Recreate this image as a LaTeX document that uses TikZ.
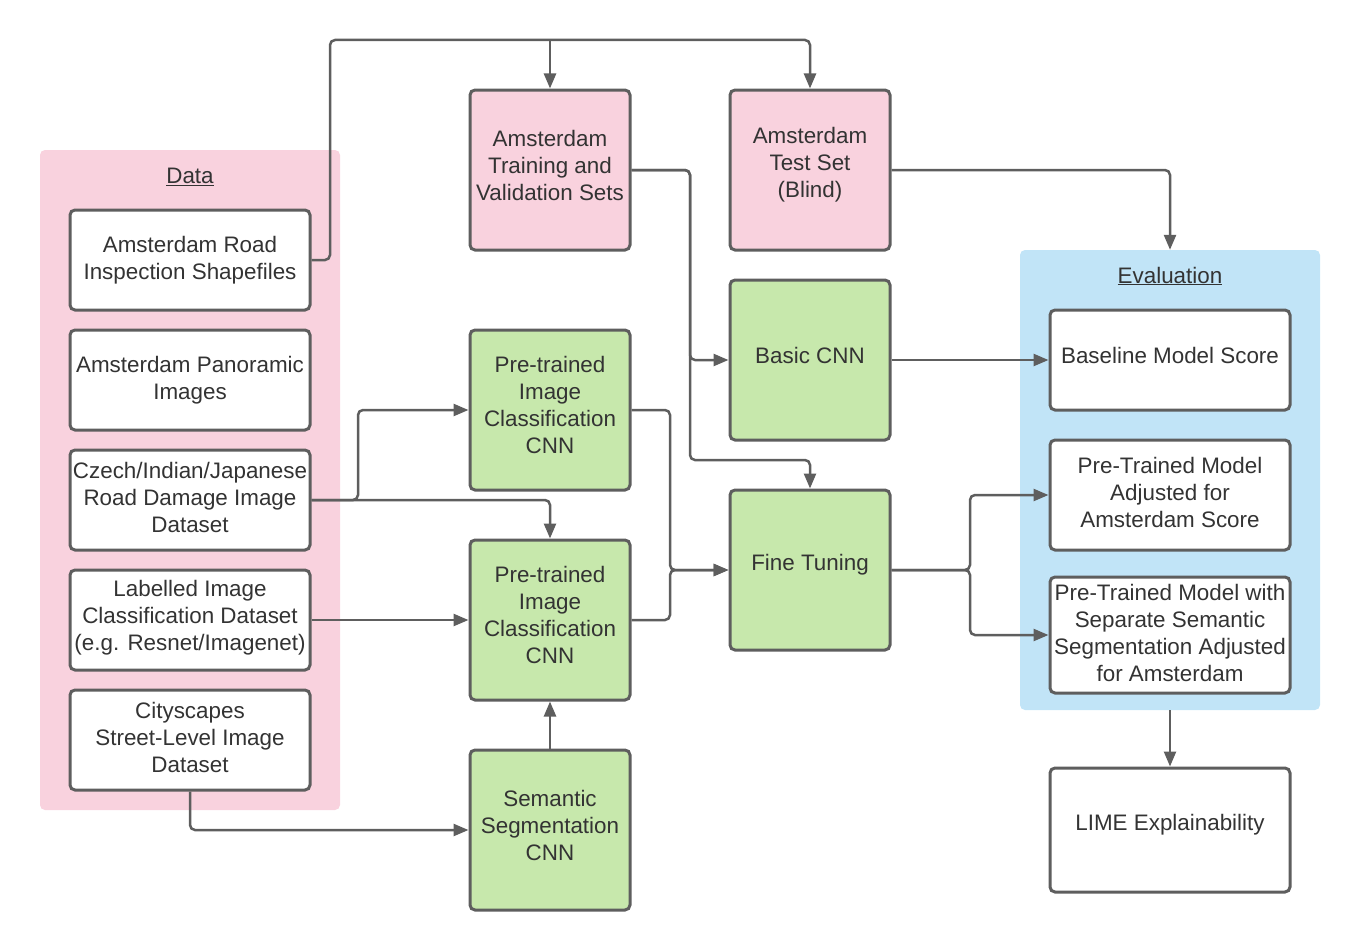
\documentclass[tikz,border=0pt]{standalone}
\usepackage{fontspec}
\setmainfont{Liberation Sans}
\usetikzlibrary{arrows.meta}
\definecolor{pinkbg}{HTML}{F9D2DE}
\definecolor{greenbg}{HTML}{C7E8AC}
\definecolor{bluebg}{HTML}{C1E4F7}
\definecolor{linec}{HTML}{5E5E5E}
\definecolor{txt}{HTML}{333333}
\begin{document}
\begin{tikzpicture}[x=1pt,y=-1pt,
  box/.style={draw=linec, line width=3pt, rounded corners=5pt, inner sep=0pt},
  lbl/.style={align=center, font=\fontsize{22.4}{27}\selectfont, text=txt, inner sep=0pt, yshift=2.5pt},
  lblhi/.style={lbl, yshift=2.5pt},
  lbltwo/.style={lbl, yshift=-3pt},
  whitebox/.style={box, fill=white, minimum width=240, minimum height=100},
  pinkbox/.style={box, fill=pinkbg, minimum width=160, minimum height=160},
  greenbox/.style={box, fill=greenbg, minimum width=160, minimum height=160},
  container/.style={rounded corners=5pt, inner sep=0pt},
  title/.style={font=\fontsize{22.4}{27}\selectfont, text=txt},
  conn/.style={draw=linec, line width=2.5pt, rounded corners=5pt},
  arr/.style={conn, -{Triangle[length=15pt,width=12pt]}}]
\useasboundingbox (0,0) rectangle (1360,950);
% containers
\node[container, fill=pinkbg, minimum width=300, minimum height=660] (data) at (190,480) {};
\node[title] (datat) at (190,177) {\underline{Data}};
\node[container, fill=bluebg, minimum width=300, minimum height=460] (eval) at (1170,480) {};
\node[title] (evalt) at (1170,276) {\underline{Evaluation}};
% data boxes
\node[whitebox, label={[lbltwo]center:{Amsterdam Road\\Inspection Shapefiles}}] (shp) at (190,260) {};
\node[whitebox, label={[lbltwo]center:{Amsterdam Panoramic\\Images}}] (pan) at (190,380) {};
\node[whitebox, label={[lbl]center:{Czech/Indian/Japanese\\Road Damage Image\\Dataset}}] (cze) at (190,500) {};
\node[whitebox, label={[lbl]center:{Labelled Image\\Classification Dataset\\(e.g. Resnet/Imagenet)}}] (lab) at (190,620) {};
\node[whitebox, label={[lbl]center:{Cityscapes\\Street-Level Image\\Dataset}}] (city) at (190,740) {};
% middle
\node[pinkbox, label={[lblhi]center:{Amsterdam\\Training and\\Validation Sets}}] (train) at (550,170) {};
\node[pinkbox, label={[lblhi]center:{Amsterdam\\Test Set\\(Blind)}}] (test) at (810,170) {};
\node[greenbox, label={[lblhi]center:{Basic CNN}}] (basic) at (810,360) {};
\node[greenbox, label={[lblhi]center:{Fine Tuning}}] (fine) at (810,570) {};
\node[greenbox, label={[lblhi]center:{Pre-trained\\Image\\Classification\\CNN}}] (p1) at (550,410) {};
\node[greenbox, label={[lblhi]center:{Pre-trained\\Image\\Classification\\CNN}}] (p2) at (550,620) {};
\node[greenbox, label={[lblhi]center:{Semantic\\Segmentation\\CNN}}] (seg) at (550,830) {};
% evaluation boxes
\node[whitebox, label={[lblhi]center:{Baseline Model Score}}] (base) at (1170,360) {};
\node[whitebox, minimum height=110, label={[lbl]center:{Pre-Trained Model\\Adjusted for\\Amsterdam Score}}] (adj) at (1170,495) {};
\node[whitebox, minimum height=116, label={[lbl]center:{Pre-Trained Model with\\Separate Semantic\\Segmentation Adjusted\\for Amsterdam}}] (sep) at (1170,635) {};
\node[whitebox, minimum height=124, label={[lblhi]center:{LIME Explainability}}] (lime) at (1170,830) {};
% connectors
\coordinate (topj) at (330,40);
\draw[arr] (shp.east) -| (topj) -| (test.north);
\draw[arr] (train.north |- topj) -- (train.north);
\coordinate (j1) at (690,360);
\coordinate (j2) at (690,460);
\draw[arr] (train.east) -| (j1) -- (basic.west);
\draw[arr] (train.east) -| (j2) -| (fine.north);
\draw[arr] (test.east) -| (eval.north);
\draw[arr] (basic.east) -- (base.west);
\coordinate (j3) at (358,410);
\draw[arr] (cze.east) -| (j3) -- (p1.west);
\draw[arr] (cze.east) -| (p2.north);
\draw[arr] (lab.east) -- (p2.west);
\coordinate (j4) at (670,570);
\draw[arr] (p1.east) -| (j4) -- (fine.west);
\draw[arr] (p2.east) -| (j4) -- (fine.west);
\draw[arr] (seg.north) -- (p2.south);
\draw[arr] (city.south) |- (seg.west);
\coordinate (j5) at (970,495);
\coordinate (j6) at (970,635);
\draw[arr] (fine.east) -| (j5) -- (adj.west);
\draw[arr] (fine.east) -| (j6) -- (sep.west);
\draw[arr] (eval.south) -- (lime.north);
\end{tikzpicture}
\end{document}
